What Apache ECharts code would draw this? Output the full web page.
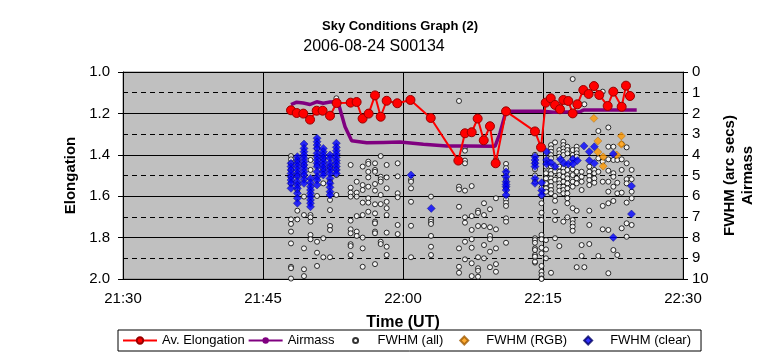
<!DOCTYPE html>
<html><head><meta charset="utf-8">
<script src="https://cdn.jsdelivr.net/npm/echarts@6/dist/echarts.min.js"></script>
<style>html,body{margin:0;padding:0;background:#fff}#c{width:767px;height:360px}</style>
</head><body><div id="c"></div>
<script>
// Times are minutes past 21:00 UT
const xTickLabels = ['21:30', '21:45', '22:00', '22:15', '22:30'];
const leftTicks = ['1.0', '1.2', '1.4', '1.6', '1.8', '2.0'];

const elongTime = [48.0,48.61,49.32,50.04,50.75,51.39,52.18,52.89,54.39,55.03,55.67,56.32,57.0,57.61,58.25,59.39,60.8,62.97,65.93,66.64,67.36,68.0,68.65,69.32,69.93,71.04,74.14,74.79,75.29,75.83,76.29,76.82,77.18,77.71,78.18,78.68,79.32,79.89,80.46,81.03,81.93,82.53,83.43,83.89,84.32];
const elongValue = [1.185,1.198,1.201,1.230,1.187,1.187,1.211,1.150,1.148,1.145,1.225,1.201,1.113,1.216,1.139,1.151,1.135,1.222,1.428,1.296,1.291,1.225,1.330,1.262,1.441,1.190,1.287,1.364,1.148,1.127,1.159,1.180,1.135,1.140,1.200,1.156,1.087,1.106,1.068,1.111,1.164,1.095,1.168,1.066,1.116];

const airmassTime = [48.0,48.61,49.32,50.04,50.75,51.46,52.18,52.82,53.18,53.79,54.5,56.11,57.89,59.68,62.18,64.68,66.82,69.86,70.39,71.04,75.04,76.11,78.96,79.32,85.04];
const airmassValue = [1.58,1.46,1.50,1.57,1.44,1.51,1.45,1.44,1.68,2.64,3.32,3.42,3.40,3.38,3.49,3.57,3.57,3.59,2.95,1.90,1.90,1.95,1.92,1.84,1.84];

const rgbTime = [80.45,80.88,80.88,81.45,81.45,82.9,83.4,83.4];
const rgbFwhm = [2.24,3.33,3.87,4.10,4.55,4.01,3.09,3.49];

const clearCols = [
  [48.0,[4.41,4.57,4.73,4.9,5.06,5.22,5.38,5.62]],
  [48.68,[4.09,4.25,4.41,4.57,4.73,4.9,5.06,5.3,5.46,5.62,5.86,6.1,6.34]],
  [49.39,[3.48,3.69,3.85,4.01,4.17,4.33,4.49,4.65,4.82,4.98,5.18,5.38]],
  [50.09,[5.14,5.35,5.54,5.7,5.86,6.02,6.18,6.34,6.51]],
  [50.79,[3.2,3.37,3.53,3.69,3.93,4.09,4.25,4.41,4.57,4.82,5.06,5.22,5.46]],
  [51.46,[3.69,3.85,4.01,4.17,4.33,4.49,4.65,4.82,4.98]],
  [52.18,[4.01,4.17,4.41,4.57,4.73,4.9,5.14,5.38,5.57,5.78,5.94]],
  [52.86,[3.44,3.64,3.8,3.96,4.12,4.28,4.41,4.57,4.73,4.9]],
  [60.86,[4.98]],
  [63.03,[6.59]],
  [71.04,[4.82,5.06,5.3,5.43,5.54,5.7,5.94]],
  [74.14,[4.09,4.25,4.41,4.57,5.14,5.38]],
  [74.86,[5.35,5.73,5.94]],
  [75.38,[3.85,4.25,4.44]],
  [75.86,[4.38]],
  [76.29,[4.57]],
  [76.87,[4.22]],
  [77.25,[4.41]],
  [77.71,[4.44]],
  [78.21,[4.22,4.44]],
  [78.68,[4.28]],
  [79.39,[3.57]],
  [79.96,[3.85,4.28]],
  [80.5,[3.61,4.41]],
  [82.53,[3.96,7.99]],
  [84.48,[5.51,6.86]]
];

const allCols = [
  [48.0,[4.06,4.22,4.41,4.73,5.06,5.38,7.12,7.34,7.71,8.28,9.41,9.48,9.98]],
  [48.68,[4.3,5.0,5.7,6.70,7.12]],
  [49.39,[4.5,5.0,6.02,6.91,8.52,9.53,9.86]],
  [50.09,[4.25,4.73,6.91,7.02,7.23,7.87,8.08]],
  [50.79,[3.7,4.5,5.99,8.20,8.73,9.37]],
  [51.46,[4.2,4.7,5.38,8.03,8.95]],
  [52.18,[4.6,5.3,6.18,6.67,7.44,7.63,8.95]],
  [52.86,[1.27,4.70,4.98,5.94]],
  [54.39,[4.49,5.59,5.83,6.02,7.18,7.60,7.79,8.32,8.41,8.84]],
  [55.04,[5.30,5.83,6.02,6.96,7.71,7.92]],
  [55.68,[4.57,5.46,5.70,6.31,6.91,8.0,8.52,9.41]],
  [56.28,[4.33,4.44,4.82,5.09,5.54,6.10,6.31,6.75]],
  [57.0,[4.41,4.73,4.82,5.41,5.73,6.39,6.83,7.23,7.31,7.71,7.79,9.28]],
  [57.61,[4.06,5.06,5.18,5.30,5.94,6.38,8.20,8.31]],
  [58.25,[4.49,5.09,5.62,6.27,6.58,6.91,7.76,8.44,8.84]],
  [59.43,[4.41,5.04,5.86,6.05,7.39,7.83]],
  [60.86,[5.2,5.30,5.62,6.27,7.43,8.95]],
  [63.0,[6.02,7.12,7.23,7.34,7.92,8.44,8.84]],
  [66.0,[1.40,5.54,5.67,6.51,8.52,9.41,9.70]],
  [66.64,[3.64,3.80,4.28,4.41,5.73,7.02,7.28,8.20,9.05]],
  [67.36,[5.51,6.96,7.63,8.08,8.49,9.24,9.86]],
  [68.04,[6.70,6.80,7.44,8.95,9.48,9.60,9.89]],
  [68.68,[6.34,6.91,7.44,8.36,9.0]],
  [69.32,[6.63,7.50,7.92,8.08,8.68,9.43]],
  [69.96,[4.22,6.10,7.60,8.52,9.28,9.65]],
  [71.04,[4.44,4.64,4.9,5.2,5.6,6.15,6.31,6.47,7.07,7.23,8.25]],
  [74.14,[4.0,4.4,4.7,5.0,5.3,8.03,8.12,8.25,8.52,8.60,8.84,8.92,9.21,9.16]],
  [74.84,[5.6,6.0,6.34,6.80,7.15,7.87,8.08,8.49,8.76,9.37,9.65,9.81,9.97,10.0]],
  [75.32,[4.57,4.89,5.14,5.38,5.62,5.78,8.12,8.57,9.0]],
  [75.86,[3.53,3.69,3.85,4.01,4.17,4.57,4.77,4.93,5.14,5.30,5.51,5.70,5.86,9.70]],
  [76.29,[3.4,4.8,5.2,5.99,6.22,6.75,7.15,8.03]],
  [76.75,[3.77,3.93,4.09,4.57,4.82,4.98,5.22,5.38,5.54,5.73,8.41]],
  [77.18,[3.37,3.53,3.69,3.85,4.01,4.65,4.82,5.06,5.30,5.54,5.70,5.86,7.23]],
  [77.61,[3.61,3.77,3.93,4.73,4.98,5.14,5.38,5.62,5.86,6.10,6.34,7.02]],
  [78.18,[0.34,3.77,4.01,4.17,4.70,4.98,5.30,5.54,6.58,7.15,7.31,7.47,7.67]],
  [78.61,[3.61,3.77,3.93,4.09,4.82,5.14,5.38,6.70,9.43]],
  [79.14,[4.82,5.06,5.30,5.70,8.36,8.89]],
  [79.43,[1.56,9.43]],
  [79.96,[4.57,4.82,5.02,5.22,5.46,6.70,7.39,8.31]],
  [80.5,[4.73,4.89,5.14,5.35]],
  [80.93,[2.85,4.17,4.82,8.89]],
  [81.4,[0.95,4.33,5.30,6.47,7.60]],
  [82.0,[2.68,3.61,4.22,4.77,5.30,5.78,6.34,7.63,9.72]],
  [82.54,[3.61,4.25,4.89,5.06,5.54,6.23,8.60]],
  [82.96,[4.25,5.35,5.86,8.84]],
  [83.43,[3.48,4.22,4.73,5.83,7.55]],
  [83.96,[0.71,3.64,4.41,5.18,5.38,6.31,7.31,7.96]],
  [84.5,[4.73,5.18,5.78,6.10,7.39]]
];

const flat = cols => cols.flatMap(([t, vals]) => vals.map(v => [t, v]));
const zip = (a, b) => a.map((t, i) => [t, b[i]]);
const FONT = 'Liberation Sans, Arial, sans-serif';
// legend icons: small symbols padded to the full 34x8 legend icon box
const LEG_DIAMOND = 'path://M0,0 L0,0 M34,8 L34,8 M17,0 L21,4 L17,8 L13,4 Z';
const LEG_CIRCLE = 'path://M0,0 L0,0 M34,8 L34,8 M19.5,4 A2.5,2.5 0 1,1 14.5,4 A2.5,2.5 0 1,1 19.5,4 Z';

const chart = echarts.init(document.getElementById('c'), null, {renderer: 'canvas'});
chart.setOption({
  animation: false,
  backgroundColor: '#ffffff',
  textStyle: {fontFamily: FONT, color: '#000'},
  graphic: [
    {type: 'text', x: 400, y: 20, style: {text: 'Sky Conditions Graph (2)', textAlign: 'center', font: 'bold 13px ' + FONT, fill: '#000'}},
    {type: 'text', x: 374, y: 39, style: {text: '2006-08-24 S00134', textAlign: 'center', font: '16px ' + FONT, fill: '#000'}}
  ],
  grid: {left: 123, right: 84, top: 72, bottom: 81, show: true, backgroundColor: '#c0c0c0', borderColor: '#808080', borderWidth: 1},
  legend: {
    left: 118, top: 330, orient: 'horizontal',
    data: [
      {name: 'Av. Elongation'},
      {name: 'Airmass'},
      {name: 'FWHM (all)', icon: LEG_CIRCLE},
      {name: 'FWHM (RGB)', icon: LEG_DIAMOND},
      {name: 'FWHM (clear)', icon: LEG_DIAMOND}
    ],
    symbolKeepAspect: true,
    borderColor: '#000', borderWidth: 1, padding: [4, 10, 4, 4], itemGap: 3,
    itemWidth: 34, itemHeight: 8,
    textStyle: {fontSize: 13, fontFamily: FONT, color: '#000'}
  },
  xAxis: {
    type: 'value', min: 30, max: 90, interval: 15,
    name: 'Time (UT)', nameLocation: 'middle', nameGap: 36,
    nameTextStyle: {fontSize: 16, fontWeight: 'bold', color: '#000'},
    axisLine: {lineStyle: {color: '#000', width: 1}},
    axisTick: {show: true, length: 5, lineStyle: {color: '#000'}},
    axisLabel: {fontSize: 15, color: '#000', margin: 12, formatter: v => xTickLabels[Math.round((v - 30) / 15)]},
    splitLine: {show: true, lineStyle: {color: '#000', width: 1}}
  },
  yAxis: [
    {
      type: 'value', min: 1, max: 2, interval: 0.2, inverse: true, position: 'left',
      name: 'Elongation', nameLocation: 'middle', nameGap: 36, nameRotate: 90,
      nameTextStyle: {fontSize: 15, fontWeight: 'bold', color: '#000'},
      axisLine: {show: true, lineStyle: {color: '#000'}},
      axisTick: {show: true, length: 5, lineStyle: {color: '#000'}},
      axisLabel: {fontSize: 15, color: '#000', margin: 13, formatter: v => leftTicks[Math.round((v - 1) / 0.2)]},
      splitLine: {show: true, lineStyle: {color: '#000', width: 1}}
    },
    {
      type: 'value', min: 0, max: 10, interval: 1, inverse: true, position: 'right',
      name: 'FWHM (arc secs)\nAirmass', nameLocation: 'middle', nameGap: 38, nameRotate: 90,
      nameTextStyle: {fontSize: 15, fontWeight: 'bold', color: '#000', lineHeight: 18},
      axisLine: {show: true, lineStyle: {color: '#000'}},
      axisTick: {show: true, length: 5, lineStyle: {color: '#000'}},
      axisLabel: {fontSize: 15, color: '#000', margin: 9},
      splitLine: {show: true, lineStyle: {color: '#000', width: 1, type: [5, 4]}}
    }
  ],
  series: [
    {
      name: 'FWHM (all)', type: 'scatter', yAxisIndex: 1, symbol: 'circle', symbolSize: 5,
      itemStyle: {color: '#ffffff', borderColor: '#000000', borderWidth: 1},
      data: flat(allCols), z: 2
    },
    {
      name: 'FWHM (RGB)', type: 'scatter', yAxisIndex: 1, symbol: 'diamond', symbolSize: 8,
      itemStyle: {color: '#ff9900', borderColor: '#a05a00', borderWidth: 0.5},
      data: zip(rgbTime, rgbFwhm), z: 3
    },
    {
      name: 'FWHM (clear)', type: 'scatter', yAxisIndex: 1, symbol: 'diamond', symbolSize: 8,
      itemStyle: {color: '#0000ff', borderColor: '#000066', borderWidth: 0.5},
      data: flat(clearCols), z: 4
    },
    {
      name: 'Airmass', type: 'line', yAxisIndex: 1, symbol: 'none', showSymbol: false,
      lineStyle: {color: '#800080', width: 3.5}, itemStyle: {color: '#800080'},
      data: zip(airmassTime, airmassValue), z: 5
    },
    {
      name: 'Av. Elongation', type: 'line', yAxisIndex: 0, symbol: 'circle', symbolSize: 9, showSymbol: true,
      lineStyle: {color: '#ff0000', width: 2},
      itemStyle: {color: '#ff0000', borderColor: '#990000', borderWidth: 1},
      data: zip(elongTime, elongValue), z: 6
    }
  ]
});
</script>
</body></html>
